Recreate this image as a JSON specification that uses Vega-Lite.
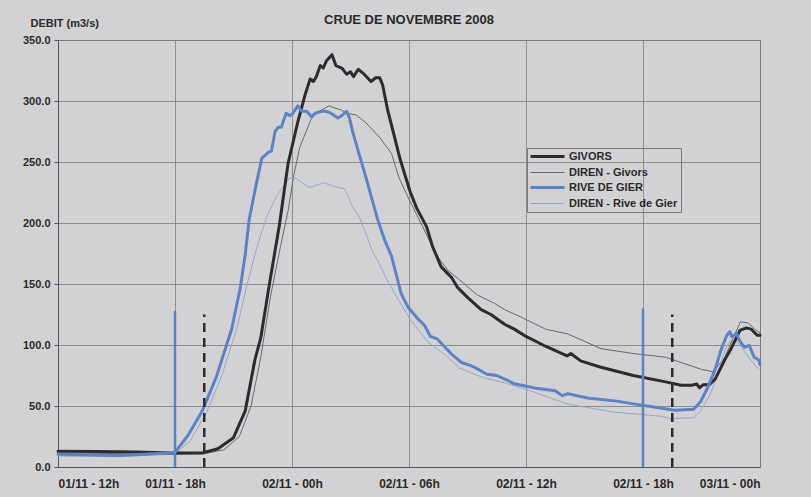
{
  "$schema": "https://vega.github.io/schema/vega-lite/v6.json",
  "width": 702,
  "height": 427,
  "autosize": "none",
  "padding": {"left": 58, "top": 40, "right": 51, "bottom": 30},
  "background": "#d2d2d4",
  "config": {
    "font": "Liberation Sans",
    "view": {"stroke": "#7a7a7a", "strokeWidth": 1},
    "axis": {"labelFont": "Liberation Sans", "labelFontWeight": "bold", "labelColor": "#2a2a2a", "gridColor": "#7d7d7d", "gridWidth": 0.8, "domainColor": "#555555", "tickColor": "#555555"}
  },
  "title": {"text": "CRUE DE NOVEMBRE 2008", "fontSize": 13, "fontWeight": "bold", "color": "#2a2a2a", "anchor": "middle", "offset": 14, "dy": 24, "font": "Liberation Sans"},
  "datasets": {
    "series": [
      {"serie": "GIVORS", "h": 0, "q": 13}, {"serie": "GIVORS", "h": 2, "q": 12.8}, {"serie": "GIVORS", "h": 4, "q": 12.3}, {"serie": "GIVORS", "h": 6, "q": 11.5}, {"serie": "GIVORS", "h": 7.4, "q": 11.5}, {"serie": "GIVORS", "h": 8.2, "q": 15}, {"serie": "GIVORS", "h": 9.0, "q": 24}, {"serie": "GIVORS", "h": 9.6, "q": 46}, {"serie": "GIVORS", "h": 10.1, "q": 88}, {"serie": "GIVORS", "h": 10.4, "q": 106}, {"serie": "GIVORS", "h": 10.8, "q": 146}, {"serie": "GIVORS", "h": 11.35, "q": 198}, {"serie": "GIVORS", "h": 11.8, "q": 249}, {"serie": "GIVORS", "h": 12.3, "q": 283}, {"serie": "GIVORS", "h": 12.67, "q": 305}, {"serie": "GIVORS", "h": 12.93, "q": 318}, {"serie": "GIVORS", "h": 13.1, "q": 316}, {"serie": "GIVORS", "h": 13.25, "q": 320}, {"serie": "GIVORS", "h": 13.45, "q": 329}, {"serie": "GIVORS", "h": 13.6, "q": 327}, {"serie": "GIVORS", "h": 13.77, "q": 333}, {"serie": "GIVORS", "h": 14.05, "q": 338}, {"serie": "GIVORS", "h": 14.25, "q": 329}, {"serie": "GIVORS", "h": 14.55, "q": 327}, {"serie": "GIVORS", "h": 14.8, "q": 322}, {"serie": "GIVORS", "h": 15.0, "q": 324}, {"serie": "GIVORS", "h": 15.15, "q": 320}, {"serie": "GIVORS", "h": 15.4, "q": 326}, {"serie": "GIVORS", "h": 15.7, "q": 322}, {"serie": "GIVORS", "h": 16.05, "q": 316}, {"serie": "GIVORS", "h": 16.3, "q": 319}, {"serie": "GIVORS", "h": 16.5, "q": 319}, {"serie": "GIVORS", "h": 16.65, "q": 313}, {"serie": "GIVORS", "h": 16.9, "q": 293}, {"serie": "GIVORS", "h": 17.2, "q": 274}, {"serie": "GIVORS", "h": 17.55, "q": 252}, {"serie": "GIVORS", "h": 18.05, "q": 226}, {"serie": "GIVORS", "h": 18.4, "q": 212}, {"serie": "GIVORS", "h": 18.9, "q": 197}, {"serie": "GIVORS", "h": 19.2, "q": 181}, {"serie": "GIVORS", "h": 19.65, "q": 164}, {"serie": "GIVORS", "h": 20.2, "q": 155}, {"serie": "GIVORS", "h": 20.5, "q": 147}, {"serie": "GIVORS", "h": 21.0, "q": 139}, {"serie": "GIVORS", "h": 21.7, "q": 129}, {"serie": "GIVORS", "h": 22.2, "q": 125}, {"serie": "GIVORS", "h": 22.9, "q": 117}, {"serie": "GIVORS", "h": 23.4, "q": 113}, {"serie": "GIVORS", "h": 24.0, "q": 107}, {"serie": "GIVORS", "h": 25.0, "q": 99}, {"serie": "GIVORS", "h": 26.1, "q": 91}, {"serie": "GIVORS", "h": 26.3, "q": 93}, {"serie": "GIVORS", "h": 26.8, "q": 87}, {"serie": "GIVORS", "h": 27.8, "q": 82}, {"serie": "GIVORS", "h": 29.5, "q": 75}, {"serie": "GIVORS", "h": 31.1, "q": 70}, {"serie": "GIVORS", "h": 31.95, "q": 67}, {"serie": "GIVORS", "h": 32.5, "q": 67}, {"serie": "GIVORS", "h": 32.75, "q": 68}, {"serie": "GIVORS", "h": 32.9, "q": 65}, {"serie": "GIVORS", "h": 33.1, "q": 67.5}, {"serie": "GIVORS", "h": 33.4, "q": 67.5}, {"serie": "GIVORS", "h": 33.7, "q": 72}, {"serie": "GIVORS", "h": 34.2, "q": 88}, {"serie": "GIVORS", "h": 34.55, "q": 98}, {"serie": "GIVORS", "h": 34.97, "q": 112}, {"serie": "GIVORS", "h": 35.3, "q": 114}, {"serie": "GIVORS", "h": 35.55, "q": 113}, {"serie": "GIVORS", "h": 35.85, "q": 108}, {"serie": "GIVORS", "h": 36, "q": 108},

      {"serie": "DIREN - Givors", "h": 0, "q": 11.5}, {"serie": "DIREN - Givors", "h": 3, "q": 11}, {"serie": "DIREN - Givors", "h": 6, "q": 10.5}, {"serie": "DIREN - Givors", "h": 7.5, "q": 11}, {"serie": "DIREN - Givors", "h": 8.5, "q": 14}, {"serie": "DIREN - Givors", "h": 9.3, "q": 25}, {"serie": "DIREN - Givors", "h": 9.9, "q": 50}, {"serie": "DIREN - Givors", "h": 10.4, "q": 90}, {"serie": "DIREN - Givors", "h": 10.9, "q": 140}, {"serie": "DIREN - Givors", "h": 11.4, "q": 180}, {"serie": "DIREN - Givors", "h": 11.8, "q": 210}, {"serie": "DIREN - Givors", "h": 12.1, "q": 240}, {"serie": "DIREN - Givors", "h": 12.4, "q": 262}, {"serie": "DIREN - Givors", "h": 12.95, "q": 284}, {"serie": "DIREN - Givors", "h": 13.2, "q": 290}, {"serie": "DIREN - Givors", "h": 13.9, "q": 296}, {"serie": "DIREN - Givors", "h": 14.25, "q": 294}, {"serie": "DIREN - Givors", "h": 14.55, "q": 292.5}, {"serie": "DIREN - Givors", "h": 14.8, "q": 290}, {"serie": "DIREN - Givors", "h": 15.3, "q": 288.5}, {"serie": "DIREN - Givors", "h": 15.8, "q": 282}, {"serie": "DIREN - Givors", "h": 16.5, "q": 270}, {"serie": "DIREN - Givors", "h": 17.1, "q": 257}, {"serie": "DIREN - Givors", "h": 17.5, "q": 236.5}, {"serie": "DIREN - Givors", "h": 18.0, "q": 219.5}, {"serie": "DIREN - Givors", "h": 18.7, "q": 197}, {"serie": "DIREN - Givors", "h": 19.4, "q": 174}, {"serie": "DIREN - Givors", "h": 20.0, "q": 161}, {"serie": "DIREN - Givors", "h": 20.7, "q": 152}, {"serie": "DIREN - Givors", "h": 21.5, "q": 141}, {"serie": "DIREN - Givors", "h": 22.4, "q": 134}, {"serie": "DIREN - Givors", "h": 22.9, "q": 129}, {"serie": "DIREN - Givors", "h": 23.6, "q": 124}, {"serie": "DIREN - Givors", "h": 25.0, "q": 113}, {"serie": "DIREN - Givors", "h": 26.15, "q": 109}, {"serie": "DIREN - Givors", "h": 27.85, "q": 97}, {"serie": "DIREN - Givors", "h": 29.5, "q": 93}, {"serie": "DIREN - Givors", "h": 31.15, "q": 90}, {"serie": "DIREN - Givors", "h": 33.0, "q": 80}, {"serie": "DIREN - Givors", "h": 33.6, "q": 78}, {"serie": "DIREN - Givors", "h": 34.2, "q": 90}, {"serie": "DIREN - Givors", "h": 34.6, "q": 105}, {"serie": "DIREN - Givors", "h": 35.0, "q": 119}, {"serie": "DIREN - Givors", "h": 35.4, "q": 118}, {"serie": "DIREN - Givors", "h": 35.8, "q": 112}, {"serie": "DIREN - Givors", "h": 36, "q": 110},

      {"serie": "RIVE DE GIER", "h": 0, "q": 10.5}, {"serie": "RIVE DE GIER", "h": 1.5, "q": 10}, {"serie": "RIVE DE GIER", "h": 3, "q": 9.5}, {"serie": "RIVE DE GIER", "h": 4.5, "q": 10.5}, {"serie": "RIVE DE GIER", "h": 6.0, "q": 12}, {"serie": "RIVE DE GIER", "h": 6.67, "q": 26}, {"serie": "RIVE DE GIER", "h": 7.4, "q": 46}, {"serie": "RIVE DE GIER", "h": 8.1, "q": 73}, {"serie": "RIVE DE GIER", "h": 8.9, "q": 112.7}, {"serie": "RIVE DE GIER", "h": 9.35, "q": 147}, {"serie": "RIVE DE GIER", "h": 9.6, "q": 174}, {"serie": "RIVE DE GIER", "h": 9.8, "q": 202.5}, {"serie": "RIVE DE GIER", "h": 10.15, "q": 230.5}, {"serie": "RIVE DE GIER", "h": 10.45, "q": 253}, {"serie": "RIVE DE GIER", "h": 10.8, "q": 258}, {"serie": "RIVE DE GIER", "h": 10.95, "q": 259}, {"serie": "RIVE DE GIER", "h": 11.13, "q": 275}, {"serie": "RIVE DE GIER", "h": 11.3, "q": 278.5}, {"serie": "RIVE DE GIER", "h": 11.45, "q": 278.5}, {"serie": "RIVE DE GIER", "h": 11.7, "q": 290}, {"serie": "RIVE DE GIER", "h": 11.9, "q": 288}, {"serie": "RIVE DE GIER", "h": 12.05, "q": 290}, {"serie": "RIVE DE GIER", "h": 12.3, "q": 296}, {"serie": "RIVE DE GIER", "h": 12.5, "q": 291.5}, {"serie": "RIVE DE GIER", "h": 12.75, "q": 291.5}, {"serie": "RIVE DE GIER", "h": 13.0, "q": 287}, {"serie": "RIVE DE GIER", "h": 13.2, "q": 290}, {"serie": "RIVE DE GIER", "h": 13.5, "q": 291.5}, {"serie": "RIVE DE GIER", "h": 13.75, "q": 291.5}, {"serie": "RIVE DE GIER", "h": 14.0, "q": 290}, {"serie": "RIVE DE GIER", "h": 14.35, "q": 286}, {"serie": "RIVE DE GIER", "h": 14.55, "q": 288}, {"serie": "RIVE DE GIER", "h": 14.8, "q": 291.5}, {"serie": "RIVE DE GIER", "h": 14.95, "q": 286}, {"serie": "RIVE DE GIER", "h": 15.1, "q": 275.4}, {"serie": "RIVE DE GIER", "h": 15.45, "q": 256}, {"serie": "RIVE DE GIER", "h": 15.8, "q": 237}, {"serie": "RIVE DE GIER", "h": 16.1, "q": 219.5}, {"serie": "RIVE DE GIER", "h": 16.4, "q": 202.5}, {"serie": "RIVE DE GIER", "h": 16.75, "q": 186}, {"serie": "RIVE DE GIER", "h": 17.1, "q": 173}, {"serie": "RIVE DE GIER", "h": 17.6, "q": 142}, {"serie": "RIVE DE GIER", "h": 17.95, "q": 131}, {"serie": "RIVE DE GIER", "h": 18.45, "q": 121.5}, {"serie": "RIVE DE GIER", "h": 18.8, "q": 116}, {"serie": "RIVE DE GIER", "h": 19.1, "q": 107}, {"serie": "RIVE DE GIER", "h": 19.45, "q": 105}, {"serie": "RIVE DE GIER", "h": 20.15, "q": 93}, {"serie": "RIVE DE GIER", "h": 20.7, "q": 85.5}, {"serie": "RIVE DE GIER", "h": 21.2, "q": 83}, {"serie": "RIVE DE GIER", "h": 21.55, "q": 80}, {"serie": "RIVE DE GIER", "h": 22.0, "q": 76}, {"serie": "RIVE DE GIER", "h": 22.5, "q": 75}, {"serie": "RIVE DE GIER", "h": 23.0, "q": 71.5}, {"serie": "RIVE DE GIER", "h": 23.35, "q": 68.5}, {"serie": "RIVE DE GIER", "h": 24.5, "q": 64.5}, {"serie": "RIVE DE GIER", "h": 25.5, "q": 62.5}, {"serie": "RIVE DE GIER", "h": 25.85, "q": 58.5}, {"serie": "RIVE DE GIER", "h": 26.15, "q": 60}, {"serie": "RIVE DE GIER", "h": 27.15, "q": 56.5}, {"serie": "RIVE DE GIER", "h": 28.65, "q": 54}, {"serie": "RIVE DE GIER", "h": 30.0, "q": 50.5}, {"serie": "RIVE DE GIER", "h": 31.2, "q": 47.5}, {"serie": "RIVE DE GIER", "h": 31.6, "q": 46.5}, {"serie": "RIVE DE GIER", "h": 32.6, "q": 47.3}, {"serie": "RIVE DE GIER", "h": 32.95, "q": 53.5}, {"serie": "RIVE DE GIER", "h": 33.3, "q": 64.5}, {"serie": "RIVE DE GIER", "h": 33.7, "q": 80}, {"serie": "RIVE DE GIER", "h": 34.0, "q": 96}, {"serie": "RIVE DE GIER", "h": 34.3, "q": 108}, {"serie": "RIVE DE GIER", "h": 34.45, "q": 111}, {"serie": "RIVE DE GIER", "h": 34.55, "q": 107}, {"serie": "RIVE DE GIER", "h": 34.8, "q": 109.5}, {"serie": "RIVE DE GIER", "h": 34.95, "q": 103.5}, {"serie": "RIVE DE GIER", "h": 35.2, "q": 98}, {"serie": "RIVE DE GIER", "h": 35.45, "q": 99.6}, {"serie": "RIVE DE GIER", "h": 35.7, "q": 90}, {"serie": "RIVE DE GIER", "h": 35.95, "q": 87.7}, {"serie": "RIVE DE GIER", "h": 36, "q": 84},

      {"serie": "DIREN - Rive de Gier", "h": 0, "q": 9}, {"serie": "DIREN - Rive de Gier", "h": 3, "q": 8.5}, {"serie": "DIREN - Rive de Gier", "h": 6, "q": 10.5}, {"serie": "DIREN - Rive de Gier", "h": 6.8, "q": 22}, {"serie": "DIREN - Rive de Gier", "h": 7.6, "q": 44}, {"serie": "DIREN - Rive de Gier", "h": 8.4, "q": 75}, {"serie": "DIREN - Rive de Gier", "h": 9.2, "q": 115}, {"serie": "DIREN - Rive de Gier", "h": 9.7, "q": 150}, {"serie": "DIREN - Rive de Gier", "h": 10.2, "q": 180}, {"serie": "DIREN - Rive de Gier", "h": 10.7, "q": 205}, {"serie": "DIREN - Rive de Gier", "h": 11.2, "q": 222}, {"serie": "DIREN - Rive de Gier", "h": 11.85, "q": 236.5}, {"serie": "DIREN - Rive de Gier", "h": 12.1, "q": 237.5}, {"serie": "DIREN - Rive de Gier", "h": 12.9, "q": 229}, {"serie": "DIREN - Rive de Gier", "h": 13.6, "q": 233}, {"serie": "DIREN - Rive de Gier", "h": 14.2, "q": 230}, {"serie": "DIREN - Rive de Gier", "h": 14.7, "q": 228}, {"serie": "DIREN - Rive de Gier", "h": 15.1, "q": 213.5}, {"serie": "DIREN - Rive de Gier", "h": 15.45, "q": 205}, {"serie": "DIREN - Rive de Gier", "h": 15.8, "q": 191}, {"serie": "DIREN - Rive de Gier", "h": 16.1, "q": 177.5}, {"serie": "DIREN - Rive de Gier", "h": 16.5, "q": 166}, {"serie": "DIREN - Rive de Gier", "h": 16.9, "q": 152.4}, {"serie": "DIREN - Rive de Gier", "h": 17.5, "q": 136}, {"serie": "DIREN - Rive de Gier", "h": 18.1, "q": 120}, {"serie": "DIREN - Rive de Gier", "h": 19.0, "q": 102}, {"serie": "DIREN - Rive de Gier", "h": 19.85, "q": 92}, {"serie": "DIREN - Rive de Gier", "h": 20.6, "q": 81}, {"serie": "DIREN - Rive de Gier", "h": 21.8, "q": 73.3}, {"serie": "DIREN - Rive de Gier", "h": 22.9, "q": 69}, {"serie": "DIREN - Rive de Gier", "h": 24.4, "q": 61.5}, {"serie": "DIREN - Rive de Gier", "h": 26.1, "q": 51.7}, {"serie": "DIREN - Rive de Gier", "h": 28.5, "q": 45}, {"serie": "DIREN - Rive de Gier", "h": 31.0, "q": 41.5}, {"serie": "DIREN - Rive de Gier", "h": 31.4, "q": 39.5}, {"serie": "DIREN - Rive de Gier", "h": 32.6, "q": 40.5}, {"serie": "DIREN - Rive de Gier", "h": 32.95, "q": 45.5}, {"serie": "DIREN - Rive de Gier", "h": 33.5, "q": 61.3}, {"serie": "DIREN - Rive de Gier", "h": 33.9, "q": 80}, {"serie": "DIREN - Rive de Gier", "h": 34.25, "q": 98}, {"serie": "DIREN - Rive de Gier", "h": 34.6, "q": 105.8}, {"serie": "DIREN - Rive de Gier", "h": 34.95, "q": 100.4}, {"serie": "DIREN - Rive de Gier", "h": 35.6, "q": 86}, {"serie": "DIREN - Rive de Gier", "h": 35.95, "q": 80}
    ],
    "reperes": [
      {"type": "RIVE DE GIER", "h": 6, "bas": 0, "haut": 128},
      {"type": "RIVE DE GIER", "h": 30, "bas": 0, "haut": 130},
      {"type": "GIVORS", "h": 7.5, "bas": 0, "haut": 125},
      {"type": "GIVORS", "h": 31.5, "bas": 0, "haut": 125}
    ]
  },
  "encoding": {
    "x": {"field": "h", "type": "quantitative", "scale": {"domain": [0, 36], "nice": false, "zero": false},
      "axis": {"title": null, "values": [0, 6, 12, 18, 24, 30, 36], "grid": true, "ticks": false, "labelPadding": 11, "labelFontSize": 12,
        "labelExpr": "['01/11 - 12h','01/11 - 18h','02/11 - 00h','02/11 - 06h','02/11 - 12h','02/11 - 18h','03/11 - 00h'][round(datum.value/6)]"}}
  },
  "layer": [
    {
      "data": {"name": "series"},
      "transform": [{"filter": "datum.serie === 'DIREN - Givors' || datum.serie === 'DIREN - Rive de Gier'"}],
      "mark": {"type": "line", "strokeWidth": 1, "strokeJoin": "round"},
      "encoding": {
        "y": {"field": "q", "type": "quantitative", "scale": {"domain": [0, 350], "nice": false},
          "axis": {"title": "DEBIT (m3/s)", "titleAngle": 0, "titleAlign": "left", "titleBaseline": "middle", "titleX": -28, "titleY": -17, "titleFontSize": 11, "titleFontWeight": "bold", "titleColor": "#2a2a2a", "titleFont": "Liberation Sans",
            "values": [0, 50, 100, 150, 200, 250, 300, 350], "format": ".1f", "grid": true, "tickSize": 4, "labelPadding": 4, "labelFontSize": 11}},
        "color": {"field": "serie", "type": "nominal",
          "scale": {"domain": ["GIVORS", "DIREN - Givors", "RIVE DE GIER", "DIREN - Rive de Gier"], "range": ["#2f2a2e", "#6a6a6e", "#5f82c2", "#98a6c6"]},
          "legend": {"title": null, "orient": "none", "legendX": 469, "legendY": 108, "direction": "vertical",
            "symbolType": "M-1,0H5.8", "symbolSize": 100, "symbolStrokeWidth": 1, "rowPadding": 3, "labelOffset": 28,
            "labelFont": "Liberation Sans", "labelFontWeight": "bold", "labelFontSize": 11, "labelColor": "#2a2a2a",
            "strokeColor": "#7a7a7a", "padding": 3,
            "encode": {"symbols": {"update": {"strokeWidth": {"signal": "indexof(['GIVORS','RIVE DE GIER'], datum.value) >= 0 ? 3 : 1"}}}}}},
        "order": {"field": "h", "type": "quantitative"}
      }
    },
    {
      "data": {"name": "series"},
      "transform": [{"filter": "datum.serie === 'GIVORS' || datum.serie === 'RIVE DE GIER'"}],
      "mark": {"type": "line", "strokeWidth": 3, "strokeJoin": "round", "strokeCap": "round"},
      "encoding": {
        "y": {"field": "q", "type": "quantitative"},
        "color": {"field": "serie", "type": "nominal"},
        "order": {"field": "h", "type": "quantitative"}
      }
    },
    {
      "data": {"name": "reperes"},
      "transform": [{"filter": "datum.type === 'RIVE DE GIER'"}],
      "mark": {"type": "rule", "color": "#5f82c2", "strokeWidth": 2.5},
      "encoding": {
        "y": {"field": "bas", "type": "quantitative"},
        "y2": {"field": "haut"}
      }
    },
    {
      "data": {"name": "reperes"},
      "transform": [{"filter": "datum.type === 'GIVORS'"}],
      "mark": {"type": "rule", "color": "#2f2a2e", "strokeWidth": 2.5, "strokeDash": [9, 6]},
      "encoding": {
        "y": {"field": "bas", "type": "quantitative"},
        "y2": {"field": "haut"}
      }
    }
  ]
}
